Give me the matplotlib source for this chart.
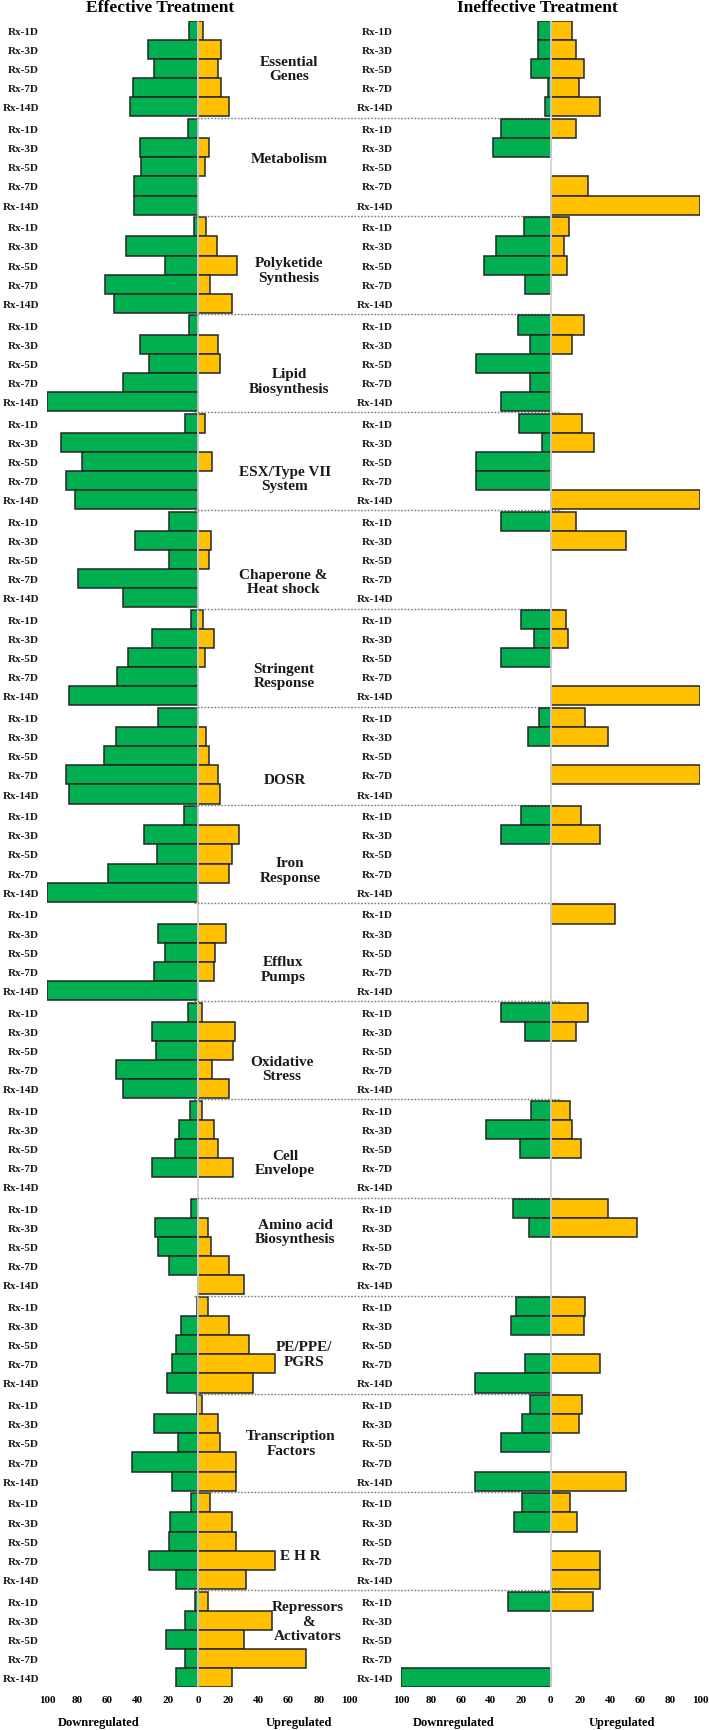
import matplotlib
matplotlib.use("Agg")
import matplotlib.pyplot as plt
import numpy as np
from matplotlib.transforms import blended_transform_factory

# ---------------- data ----------------
groups = ["Essential\nGenes", "Metabolism", "Polyketide\nSynthesis", "Lipid\nBiosynthesis",
          "ESX/Type VII\nSystem", "Chaperone &\nHeat shock", "Stringent\nResponse", "DOSR",
          "Iron\nResponse", "Efflux\nPumps", "Oxidative\nStress", "Cell\nEnvelope",
          "Amino acid\nBiosynthesis", "PE/PPE/\nPGRS", "Transcription\nFactors", "E H R",
          "Repressors\n&\nActivators"]
timepoints = ["Rx-1D", "Rx-3D", "Rx-5D", "Rx-7D", "Rx-14D"]
tick_values = [-100, -80, -60, -40, -20, 0, 20, 40, 60, 80, 100]

eff_down = [
    [6, 33, 29, 43, 45],
    [6.4, 38.4, 37.5, 42.6, 42.6],
    [2.4, 47.7, 21.6, 61.8, 55.8],
    [5.7, 38.4, 32.7, 49.9, 100],
    [8.4, 91, 76.8, 87.6, 81.7],
    [19.4, 41.9, 19.4, 79.7, 49.9],
    [4.4, 30.7, 46.6, 53.9, 85.7],
    [26.7, 54.5, 62.5, 87.6, 85.7],
    [9.5, 35.5, 27.4, 59.8, 100],
    [0, 26.5, 21.6, 29.4, 100],
    [6.4, 30.7, 27.6, 54.5, 49.9],
    [5.5, 12.4, 15.5, 30.7, 0],
    [4.4, 28.7, 26.5, 19.4, 0],
    [0.7, 11.5, 14.8, 17.4, 20.8],
    [0.5, 29.4, 13.5, 43.7, 17.4],
    [4.4, 18.5, 19.4, 32.5, 14.8],
    [1.8, 8.4, 21.4, 8.4, 14.6],
]
eff_up = [
    [3, 15.5, 13.5, 15.5, 20.5],
    [0, 7.5, 4.4, 0, 0],
    [5.5, 12.8, 25.6, 8.2, 22.7],
    [0, 13.5, 14.6, 0, 0],
    [4.4, 0, 9.5, 0, 0],
    [0, 8.4, 7.5, 0, 0],
    [3.3, 10.4, 4.4, 0, 0],
    [0, 5.3, 7.5, 13.5, 14.6],
    [0, 27.4, 22.5, 20.5, 0],
    [0, 18.5, 11.3, 10.4, 0],
    [2.4, 24.7, 23.4, 9.5, 20.5],
    [2.4, 10.4, 13.5, 23.4, 0],
    [0, 6.4, 8.4, 20.5, 30.7],
    [6.6, 20.5, 33.6, 50.8, 36.6],
    [2.6, 13.5, 14.8, 25.4, 25.4],
    [8.2, 22.7, 25.4, 50.8, 31.6],
    [6.8, 49, 30.7, 71.5, 22.5],
]
ineff_down = [
    [8.2, 8.2, 13.0, 1.8, 3.5],
    [32.9, 38.2, 0, 0, 0],
    [17.7, 36.2, 44.2, 17.0, 0],
    [21.9, 13.7, 50.1, 13.7, 32.9],
    [21, 5.7, 50.1, 50.1, 0],
    [33.1, 0, 0, 0, 0],
    [19.6, 11.0, 33.1, 0, 0],
    [7.7, 15.0, 0, 0, 0],
    [19.9, 33.1, 0, 0, 0],
    [0, 0, 0, 0, 0],
    [33.1, 17.2, 0, 0, 0],
    [13.2, 43, 20.3, 0, 0],
    [25.2, 14.1, 0, 0, 0],
    [23.2, 26.3, 0, 17.2, 50.3],
    [13.9, 19.2, 33.1, 0, 50.3],
    [19.2, 24.5, 0, 0, 0],
    [28.3, 0, 0, 0, 100],
]
ineff_up = [
    [14.1, 17.2, 22.5, 19.2, 33.3],
    [17.2, 0, 0, 25.2, 100],
    [12.1, 9.3, 11.3, 0, 0],
    [22.3, 14.1, 0, 0, 0],
    [21.4, 29.4, 0, 0, 100],
    [17.2, 50.6, 0, 0, 0],
    [10.2, 11.5, 0, 0, 100],
    [23.2, 38.6, 0, 100, 0],
    [20.5, 33.3, 0, 0, 0],
    [43.3, 0, 0, 0, 0],
    [25.2, 17.2, 0, 0, 0],
    [13.2, 14.1, 20.1, 0, 0],
    [38.4, 57.6, 0, 0, 0],
    [23.2, 22.1, 0, 33.1, 0],
    [21.2, 19.2, 0, 0, 50.6],
    [13.2, 17.9, 0, 33.1, 33.1],
    [28.7, 0, 0, 0, 0],
]

# ---------------- style / layout ----------------
W, H = 709, 1731
FONT = "Liberation Serif"
GREEN = "#00B050"
YELLOW = "#FFC000"
EDGE = "#262626"
PITCH = 5.14          # group pitch in row units
AX_TOP, AX_BOT = 22, 1688

# label placement (pixels x, vertical offset in px from group centre)
label_x = [289, 289, 289, 289, 285, 283, 284, 285, 290, 283, 282, 285, 295, 304, 291, 300, 308]
label_dy = [0, -8, 5, 18, 17, 22, 18, 24, 16, 17, 18, 14, -15, 9, 0, 14, -18]

plt.rcParams["font.family"] = [FONT, "DejaVu Serif"]
plt.rcParams["font.weight"] = "bold"

fig = plt.figure(figsize=(W / 100, H / 100), dpi=100)
ax_bottom = 1 - AX_BOT / H
ax_height = (AX_BOT - AX_TOP) / H
axL = fig.add_axes([47 / W, ax_bottom, 302 / W, ax_height])
axR = fig.add_axes([401 / W, ax_bottom, 299 / W, ax_height])

n_g = len(groups)
n_t = len(timepoints)
ypos = np.array([[g * PITCH + i for i in range(n_t)] for g in range(n_g)])
row_px = (AX_BOT - AX_TOP) / (ypos.max() + 1.0)


def draw_panel(ax, down, up):
    d = np.array(down, dtype=float).ravel()
    u = np.array(up, dtype=float).ravel()
    y = ypos.ravel()
    md = d > 0
    mu = u > 0
    ax.barh(y[md], -d[md], height=1.0, color=GREEN, edgecolor=EDGE, linewidth=1.1, zorder=2)
    ax.barh(y[mu], u[mu], height=1.0, color=YELLOW, edgecolor=EDGE, linewidth=1.1, zorder=2)
    ax.axvline(0, color="#d4d4d4", lw=1.3, zorder=3)
    ax.set_xlim(-100, 100)
    ax.set_ylim(ypos.max() + 0.5, -0.5)
    ax.set_yticks(y)
    ax.set_yticklabels(timepoints * n_g, fontsize=8, fontweight="bold", color="#1a1a1a")
    ax.set_xticks(tick_values)
    ax.set_xticklabels([str(abs(v)) for v in tick_values], fontsize=8, fontweight="bold")
    ax.tick_params(axis="y", length=0, pad=5.8)
    ax.tick_params(axis="x", length=0, pad=6)
    for s in ax.spines.values():
        s.set_visible(False)
    ax.patch.set_alpha(0)


draw_panel(axL, eff_down, eff_up)
draw_panel(axR, ineff_down, ineff_up)

# group separators (dotted, spanning from left zero line to past right zero line)
blend = blended_transform_factory(fig.transFigure, axL.transData)
for g in range(n_g - 1):
    ysep = g * PITCH + (n_t - 1) + 0.5 + (PITCH - n_t) / 2
    axL.plot([194 / W, 561 / W], [ysep, ysep], transform=blend, color="#7a7a7a",
             lw=1.0, linestyle=(0, (1.2, 1.2)), clip_on=False, zorder=4)

# category labels
for g, name in enumerate(groups):
    yc = g * PITCH + (n_t - 1) / 2 + label_dy[g] / row_px
    axL.text(label_x[g] / W, yc, name, transform=blend, ha="center", va="center",
             multialignment="center", fontsize=11, fontweight="bold", linespacing=1.15,
             color="#1a1a1a", zorder=5)

# titles
fig.text(160 / W, 1 - 8 / H, "Effective Treatment", ha="center", va="center",
         fontsize=12.5, fontweight="bold")
fig.text(537 / W, 1 - 8 / H, "Ineffective Treatment", ha="center", va="center",
         fontsize=12.5, fontweight="bold")

# bottom labels
for x, s in [(99, "Downregulated"), (299, "Upregulated"), (454, "Downregulated"), (622, "Upregulated")]:
    fig.text(x / W, 1 - 1723 / H, s, ha="center", va="center", fontsize=9, fontweight="bold")

fig.savefig("out.png", dpi=100)
